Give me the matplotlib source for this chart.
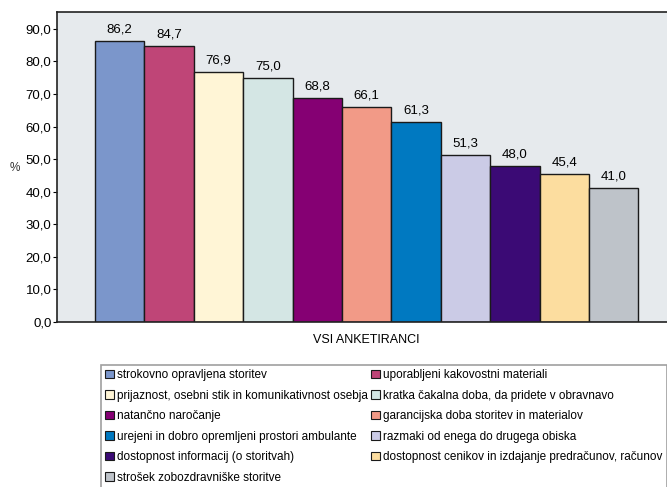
import matplotlib
matplotlib.use("Agg")
import matplotlib.pyplot as plt

plt.rcParams['font.family'] = ['Liberation Sans', 'DejaVu Sans']

categories = [
    "strokovno opravljena storitev",
    "uporabljeni kakovostni materiali",
    "prijaznost, osebni stik in komunikativnost osebja",
    "kratka čakalna doba, da pridete v obravnavo",
    "natančno naročanje",
    "garancijska doba storitev in materialov",
    "urejeni in dobro opremljeni prostori ambulante",
    "razmaki od enega do drugega obiska",
    "dostopnost informacij (o storitvah)",
    "dostopnost cenikov in izdajanje predračunov, računov",
    "strošek zobozdravniške storitve",
]
values = [86.2, 84.7, 76.9, 75.0, 68.8, 66.1, 61.3, 51.3, 48.0, 45.4, 41.0]
colors = ["#7B96CB", "#BF4577", "#FFF5D6", "#D4E6E4", "#850073", "#F29A87",
          "#0079C1", "#CBCBE6", "#3B0A75", "#FCDD9F", "#BEC3C9"]
yticks = [0, 10, 20, 30, 40, 50, 60, 70, 80, 90]
group_label = "VSI ANKETIRANCI"

W, H = 667, 487
fig = plt.figure(figsize=(W / 100, H / 100), dpi=100)
ax = fig.add_axes([57 / W, (H - 322) / H, 1 - 57 / W, (322 - 12) / H])
ax.set_facecolor("#E6EAED")

x = list(range(len(values)))
bars = ax.bar(x, values, width=1.0, color=colors, edgecolor="#1a1a1a", linewidth=1.0)

for xi, v in zip(x, values):
    ax.annotate(f"{v:.1f}".replace(".", ","), (xi, v), xytext=(0, 4),
                textcoords="offset points", ha="center", va="bottom", fontsize=9.5)

ax.set_xlim(-1.27, 11.08)
ax.set_ylim(0, 95.2)
ax.set_yticks(yticks)
ax.set_yticklabels([f"{t:.1f}".replace(".", ",") for t in yticks], fontsize=9.5)
ax.tick_params(axis="y", direction="out", length=3, width=0.8, pad=1)
ax.set_xticks([])
ax.spines["right"].set_visible(False)
for s in ["left", "top", "bottom"]:
    ax.spines[s].set_linewidth(1.2)
    ax.spines[s].set_color("#222222")
fig.text(15 / W, 1 - 168 / H, "%", ha="center", va="center", fontsize=8.5, color="#333333")
ax.text((x[0] + x[-1]) / 2, -5.5, group_label, ha="center", va="center", fontsize=9)

order = [0, 2, 4, 6, 8, 10, 1, 3, 5, 7, 9]
leg = fig.legend([bars[i] for i in order], [categories[i] for i in order],
                 loc="upper left", bbox_to_anchor=(101 / W, 1 - 365 / H),
                 ncol=2, fontsize=8.5, frameon=True, fancybox=False,
                 handlelength=0.75, handleheight=0.75, handletextpad=0.25,
                 columnspacing=0.3, labelspacing=0.72, borderpad=0.35,
                 borderaxespad=0)
leg.get_frame().set_edgecolor("#888888")
leg.get_frame().set_linewidth(1.2)
for h in leg.legend_handles:
    h.set_linewidth(0.8)

fig.savefig("out.png", dpi=100)
